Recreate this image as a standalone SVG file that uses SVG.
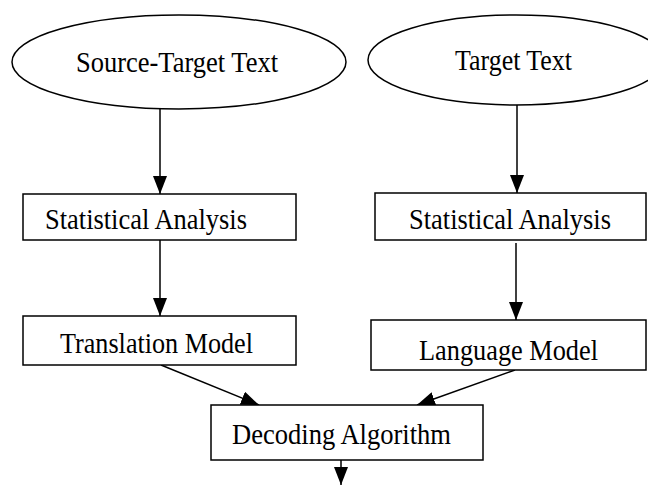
<svg xmlns="http://www.w3.org/2000/svg" width="648" height="485" viewBox="0 0 648 485">
  <style>
    .shape { fill: #fff; stroke: #000; stroke-width: 1.5; }
    .label { font-family: "Liberation Serif", "Times New Roman", serif; font-size: 30px; fill: #000; }
    .edge { stroke: #000; stroke-width: 1.5; fill: none; marker-end: url(#arrow); }
  </style>
  <defs>
    <marker id="arrow" viewBox="0 0 18 14" refX="18" refY="7" markerWidth="18" markerHeight="14" markerUnits="userSpaceOnUse" orient="auto">
      <path d="M0,0 L18,7 L0,14 z" fill="#000"/>
    </marker>
  </defs>
  <rect width="648" height="485" fill="#fff"/>

  <g id="connectors">
    <line class="edge" x1="160" y1="108" x2="160" y2="194"/>
    <line class="edge" x1="517" y1="105" x2="517" y2="193"/>
    <line class="edge" x1="160" y1="240" x2="160" y2="316"/>
    <line class="edge" x1="516" y1="243" x2="516" y2="320"/>
    <line class="edge" x1="161" y1="365" x2="259" y2="405"/>
    <line class="edge" x1="515" y1="370" x2="417" y2="405"/>
    <line class="edge" x1="341" y1="460" x2="341" y2="485"/>
  </g>

  <g id="source-target-text">
    <ellipse class="shape" cx="179" cy="62" rx="167" ry="47"/>
    <text class="label" x="76" y="72" textLength="202" lengthAdjust="spacingAndGlyphs">Source-Target Text</text>
  </g>
  <g id="target-text">
    <ellipse class="shape" cx="516" cy="60" rx="148" ry="45"/>
    <text class="label" x="455" y="70" textLength="117" lengthAdjust="spacingAndGlyphs">Target Text</text>
  </g>
  <g id="statistical-analysis-1">
    <rect class="shape" x="23" y="194" width="273" height="46"/>
    <text class="label" x="45" y="229" textLength="202" lengthAdjust="spacingAndGlyphs">Statistical Analysis</text>
  </g>
  <g id="statistical-analysis-2">
    <rect class="shape" x="375" y="193" width="271" height="47"/>
    <text class="label" x="409" y="229" textLength="202" lengthAdjust="spacingAndGlyphs">Statistical Analysis</text>
  </g>
  <g id="translation-model">
    <rect class="shape" x="23" y="316" width="273" height="49"/>
    <text class="label" x="60" y="353" textLength="193" lengthAdjust="spacingAndGlyphs">Translation Model</text>
  </g>
  <g id="language-model">
    <rect class="shape" x="371" y="320" width="275" height="50"/>
    <text class="label" x="419" y="360" textLength="179" lengthAdjust="spacingAndGlyphs">Language Model</text>
  </g>
  <g id="decoding-algorithm">
    <rect class="shape" x="211" y="405" width="272" height="55"/>
    <text class="label" x="232" y="444" textLength="219" lengthAdjust="spacingAndGlyphs">Decoding Algorithm</text>
  </g>
</svg>
